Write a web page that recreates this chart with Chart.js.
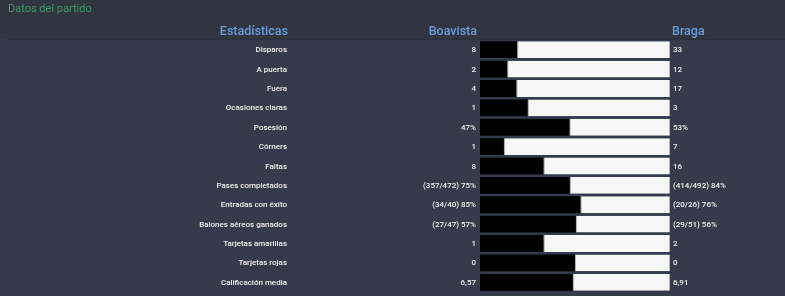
<!DOCTYPE html>
<html>
<head>
<meta charset="utf-8">
<script src="https://cdn.jsdelivr.net/npm/chart.js@4"></script>
<style>
html,body{margin:0;padding:0;background:#353b4a;}
canvas{display:block;}
</style>
</head>
<body>
<canvas id="c" width="785" height="296"></canvas>
<script>
const categories = ["Disparos","A puerta","Fuera","Ocasiones claras","Posesión","Córners","Faltas","Pases completados","Entradas con éxito","Balones aéreos ganados","Tarjetas amarillas","Tarjetas rojas","Calificación media"];
const boavistaLabels = ["8","2","4","1","47%","1","8","(357/472) 75%","(34/40) 85%","(27/47) 57%","1","0","6,57"];
const bragaLabels = ["33","12","17","3","53%","7","16","(414/492) 84%","(20/26) 76%","(29/51) 56%","2","0","6,91"];
const boavistaValues = [8,2,4,1,47,1,8,75,85,57,1,0,6.57];
const bragaValues = [33,12,17,3,53,7,16,84,76,56,2,0,6.91];
const teams = ["Boavista","Braga"];
const title = "Datos del partido";
const headerLabel = "Estadísticas";

const boaShare = boavistaValues.map((v,i)=>{const t=v+bragaValues[i];return t?v/t:0.5;});
const braShare = boaShare.map(s=>1-s);

const FONT = "Roboto, 'Liberation Sans', sans-serif";

const textPlugin = {
  id:'textPlugin',
  beforeDraw(chart){
    const ctx=chart.ctx;
    ctx.save();
    ctx.fillStyle='#353b4a';
    ctx.fillRect(0,0,chart.width,chart.height);
    ctx.fillStyle='#30353f';
    ctx.fillRect(0,0,chart.width,39);
    ctx.fillStyle='#2a2f3a';
    ctx.fillRect(8,39,chart.width-8,1);
    ctx.restore();
  },
  afterDraw(chart){
    const ctx=chart.ctx;
    const y=chart.scales.y;
    const area=chart.chartArea;
    ctx.save();
    ctx.textBaseline='middle';
    ctx.fillStyle='#3c9b68';
    ctx.font="11px "+FONT;
    ctx.textAlign='left';
    ctx.fillText(title,8,9);
    ctx.fillStyle='#6a9ce2';
    ctx.font="500 12.5px "+FONT;
    ctx.textAlign='right';
    ctx.fillText(headerLabel,288,32);
    ctx.fillText(teams[0],area.left-3,32);
    ctx.textAlign='left';
    ctx.fillText(teams[1],area.right+2,32);
    ctx.fillStyle='#f0f0f0';
    ctx.font="500 8px "+FONT;
    categories.forEach((c,i)=>{
      const py=y.getPixelForValue(i)+0.5;
      ctx.textAlign='right';
      ctx.fillText(c,287,py);
      ctx.fillText(boavistaLabels[i],area.left-4,py);
      ctx.textAlign='left';
      ctx.fillText(bragaLabels[i],area.right+3,py);
    });
    ctx.restore();
  }
};

new Chart(document.getElementById('c'),{
  type:'bar',
  data:{
    labels:categories,
    datasets:[
      {label:teams[0],data:boaShare,backgroundColor:'#000000',borderColor:'#000000',borderWidth:0,categoryPercentage:1,barPercentage:0.87},
      {label:teams[1],data:braShare,backgroundColor:'#f7f7f7',borderColor:'#b5b5b5',borderWidth:{left:1,right:1,top:0,bottom:0},borderSkipped:false,categoryPercentage:1,barPercentage:0.87}
    ]
  },
  options:{
    indexAxis:'y',
    responsive:false,
    animation:false,
    devicePixelRatio:1,
    layout:{padding:{left:480,right:115,top:40,bottom:4}},
    plugins:{legend:{display:false},tooltip:{enabled:false}},
    scales:{
      x:{stacked:true,min:0,max:1,display:false},
      y:{stacked:true,display:false}
    }
  },
  plugins:[textPlugin]
});
</script>
</body>
</html>
